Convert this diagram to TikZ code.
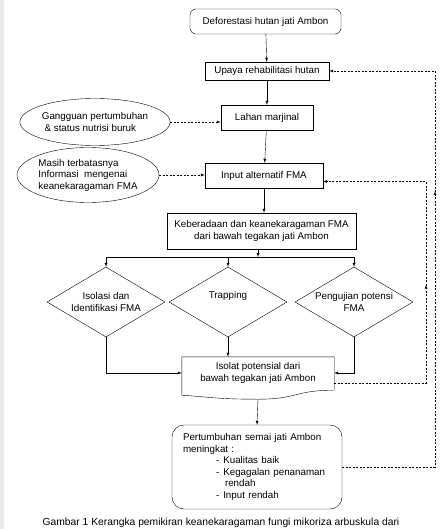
\documentclass[tikz,border=0pt]{standalone}
\usepackage{fontspec}
\setmainfont{Liberation Sans}
\usetikzlibrary{shapes.geometric,decorations.markings}

\begin{document}
\begin{tikzpicture}[x=1pt,y=-1pt,>=latex,
  font=\fontsize{9.8}{11.5}\selectfont,
  kotak/.style={draw,rectangle,inner sep=2pt,align=center},
  bulat/.style={kotak,rounded corners=6pt},
  oval/.style={draw,ellipse,inner sep=0pt,align=left},
  belah/.style={draw,diamond,shape aspect=1.7,inner sep=0pt,minimum width=118,minimum height=70,align=center},
  putus/.style={dashed,dash pattern=on 2pt off 1.5pt}]
\useasboundingbox (0,0) rectangle (439,529);
\fill[gray!15] (0,0) rectangle (4,529);

\node[bulat,minimum width=151,minimum height=25] (defo) at (265.5,21.5) {Deforestasi hutan jati Ambon};
\node[kotak,minimum width=124,minimum height=18] (upaya) at (267,71) {Upaya rehabilitasi hutan};
\node[kotak,minimum width=92,minimum height=25] (lahan) at (267,117.5) {Lahan marjinal};
\node[kotak,minimum width=118,minimum height=25] (input) at (264,175.5) {Input alternatif FMA};
\node[kotak,minimum width=189,minimum height=36] (ada) at (261.5,231) {Keberadaan dan keanekaragaman FMA\\ dari bawah tegakan jati Ambon};

\node[oval,minimum width=126,minimum height=47] (gang) at (95,122) {Gangguan pertumbuhan\\ \ \& status nutrisi buruk};
\node[oval,minimum width=142,minimum height=55] (masih) at (88,175) {Masih terbatasnya\\ Informasi\ \ mengenai\\ keanekaragaman FMA};

\node[belah] (d1) at (106,302) {Isolasi dan\\ Identifikasi FMA};
\node[belah] (d2) at (228,302) {Trapping\\ \strut};
\node[belah] (d3) at (354,302) {Pengujian potensi\\ FMA};

% isolat (bentuk dokumen)
\node[minimum width=152,minimum height=42,inner sep=0pt,align=center] (iso) at (258,378) {Isolat potensial dari\\ bawah tegakan jati Ambon\\[1pt]};
\draw (iso.north west) -- (iso.north east) -- ([yshift=9pt]iso.south east)
  .. controls +(-40,0) and +(40,0) .. (iso.south)
  .. controls +(-40,0) and +(30,2) .. ([yshift=4pt]iso.south west) -- cycle;

\node[bulat,rounded corners=12pt,minimum height=84,text width=148,inner xsep=11pt,align=left] (pert) at (257,467)
  {Pertumbuhan semai jati Ambon\\ meningkat :\\
   \hspace*{33pt}-\hspace*{4pt}Kualitas baik\\
   \hspace*{33pt}-\hspace*{4pt}Kegagalan penanaman\\
   \hspace*{42pt}rendah\\
   \hspace*{33pt}-\hspace*{4pt}Input rendah};

\node[font=\fontsize{10.3}{12}\selectfont,inner sep=0pt] (capt) at (221,523) {Gambar 1 Kerangka pemikiran keanekaragaman fungi mikoriza arbuskula dari};

% alur utama
\draw[->] (defo) -- (upaya);
\draw[->] (upaya) -- (lahan);
\draw[->] (lahan) -- (input);
\draw[->] (input) -- (input |- ada.north);
\coordinate (cab) at (258,257);
\draw[->] (cab |- ada.south) -- (cab);
\draw (cab -| d1.north) -- (cab -| d3.north);
\foreach \d in {d1,d2,d3} {\draw[->] (cab -| \d.north) -- (\d.north);}
\draw[->] (d1.south) |- ([yshift=5pt]iso.west);
\draw[->] (d3.south) |- ([yshift=5pt]iso.east);
\draw[->] (d2.south) -- (d2.south |- iso.north);
\draw[->] (iso.south) -- (pert.north);

% masukan dari elips
\draw[putus,->] (gang.east) -- (gang.east -| lahan.west);
\draw[putus,->] (masih.east) -- (masih.east -| input.west);

% umpan balik
\draw[putus,->,postaction={decorate,decoration={markings,mark=at position 0.62 with {\arrow{>}}}}]
  (pert.east) -- (435,467) |- (upaya.east);
\draw[putus,->,postaction={decorate,decoration={markings,mark=at position 0.48 with {\arrow{>}}}}]
  ([yshift=-5pt]iso.east) -- (426,383) |- ([yshift=-6pt]input.east);
\end{tikzpicture}
\end{document}
